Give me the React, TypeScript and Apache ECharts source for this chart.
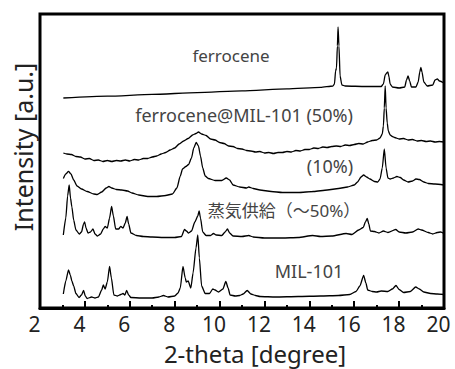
import React, { useEffect, useRef } from 'react';
import * as echarts from 'echarts';

// 2-theta range of the axis
const xMin = 2;
const xMax = 20;
const xStep = 2;
const yMin = 0;
const yMax = 294;

// [2-theta, stacked intensity (offset included)]
const ferrocene: [number, number][] = [
  [3.04, 210], [5, 211.8], [7, 213.6], [9, 215.4], [11, 217.2], [13, 219.1], [14.5, 220.6],
  [15.05, 222], [15.12, 224], [15.17, 237], [15.21, 240], [15.25, 262], [15.28, 281],
  [15.32, 262], [15.37, 232], [15.45, 223], [15.6, 222], [16.5, 221.5], [17.2, 221.5],
  [17.3, 224], [17.38, 233], [17.45, 235], [17.5, 236], [17.55, 231], [17.6, 224],
  [17.7, 221], [18, 220], [18.25, 221], [18.33, 228], [18.4, 232], [18.47, 227],
  [18.55, 221], [18.75, 221], [18.85, 226], [18.92, 236], [18.97, 240.5], [19.02, 236],
  [19.1, 226], [19.25, 222], [19.5, 223], [19.6, 228], [19.7, 229], [19.8, 227], [20, 225],
];

const ferroceneMil50: [number, number][] = [
  [3.04, 155], [3.2, 154], [3.4, 153.5], [3.6, 151.5], [3.8, 151], [4.0, 149], [4.2, 149.5],
  [4.4, 147.5], [4.6, 148], [4.8, 146.5], [5.0, 147.5], [5.2, 146.5], [5.4, 147.5],
  [5.6, 147], [5.8, 148], [6.0, 147], [6.2, 148.5], [6.4, 148], [6.6, 149.5], [6.8, 149.5],
  [7.0, 151], [7.2, 152], [7.4, 154], [7.6, 155.5], [7.8, 158], [8.0, 160], [8.2, 164],
  [8.4, 167], [8.6, 169.5], [8.8, 173], [8.95, 174.5], [9.06, 176], [9.2, 174],
  [9.4, 172.5], [9.6, 169], [9.8, 168], [10.0, 165.5], [10.2, 164.5], [10.4, 162],
  [10.6, 161.5], [10.8, 159.5], [11.0, 159], [11.2, 157.5], [11.4, 157], [11.6, 156],
  [11.8, 156.5], [12.0, 155], [12.2, 155.5], [12.4, 154.5], [12.6, 155.5], [12.8, 155.5],
  [13.0, 156.5], [13.2, 156], [13.4, 157.5], [13.6, 157], [13.8, 158.5], [14.0, 158.5],
  [14.2, 160], [14.4, 159.5], [14.6, 161], [14.8, 160.5], [15.0, 161.5], [15.2, 162],
  [15.4, 161.5], [15.6, 163], [15.8, 162.5], [16.0, 163.5], [16.2, 164.5], [16.4, 164],
  [16.6, 166], [16.8, 167.5], [17.0, 168], [17.15, 170], [17.25, 174], [17.3, 182],
  [17.34, 200], [17.38, 222], [17.42, 200], [17.47, 185], [17.52, 177], [17.6, 173],
  [17.7, 171.5], [17.8, 170.5], [18.0, 169], [18.2, 169.5], [18.4, 168], [18.6, 168.5],
  [18.8, 167], [19.0, 167.5], [19.2, 166.5], [19.4, 167], [19.6, 166], [19.8, 166.5],
  [20.0, 166],
];

const ferroceneMil10: [number, number][] = [
  [3.04, 129.5], [3.15, 134], [3.27, 136.5], [3.38, 134], [3.5, 128], [3.65, 122],
  [3.85, 119], [4.1, 116.5], [4.4, 114], [4.55, 113.5], [4.75, 116], [4.95, 120],
  [5.07, 121.5], [5.2, 120], [5.4, 118.5], [5.65, 118], [5.9, 117], [6.1, 115],
  [6.4, 113], [6.8, 111.5], [7.2, 111.5], [7.6, 112.5], [7.9, 114], [8.1, 120],
  [8.25, 132], [8.35, 139], [8.5, 141.5], [8.62, 143.5], [8.75, 150], [8.85, 160],
  [8.96, 165.5], [9.06, 162], [9.15, 152], [9.25, 140], [9.36, 132], [9.5, 129.5],
  [9.8, 127.5], [10.1, 127.5], [10.3, 130], [10.45, 128], [10.6, 123], [10.9, 121],
  [11.2, 120], [11.3, 121], [11.5, 119.5], [11.8, 118], [12.3, 116.5], [12.8, 115.5],
  [13.5, 115.5], [14.2, 116.5], [14.8, 118], [15.3, 119.5], [15.7, 121], [16.0, 123],
  [16.15, 126], [16.3, 131], [16.42, 133], [16.55, 131], [16.7, 129], [16.9, 126.5],
  [17.05, 126], [17.15, 129], [17.25, 140], [17.34, 159], [17.42, 140], [17.5, 130],
  [17.6, 129], [17.75, 130], [17.9, 131.5], [18.05, 130.5], [18.2, 128], [18.4, 126],
  [18.6, 127], [18.75, 129], [18.9, 128.5], [19.1, 126], [19.3, 124.5], [19.6, 124],
  [20.0, 123],
];

const steamSupply: [number, number][] = [
  [3.04, 73], [3.15, 90], [3.23, 112], [3.3, 123], [3.36, 110], [3.42, 101], [3.5, 88],
  [3.6, 78], [3.75, 74], [3.85, 76], [3.94, 84], [3.99, 86], [4.05, 80], [4.14, 75],
  [4.25, 76], [4.36, 79], [4.45, 74], [4.56, 72], [4.7, 74], [4.82, 79], [4.9, 81.5],
  [5.0, 80], [5.1, 90], [5.19, 101.5], [5.27, 92], [5.37, 79], [5.5, 79], [5.6, 81.5],
  [5.7, 80], [5.8, 85], [5.88, 91.5], [5.95, 84], [6.05, 75], [6.3, 72.5], [6.6, 71.5],
  [7.0, 71], [7.5, 70.5], [8.0, 70.5], [8.3, 71.5], [8.44, 78.5], [8.52, 77], [8.62, 75],
  [8.75, 77], [8.9, 86], [9.03, 92], [9.09, 97], [9.15, 90], [9.25, 76], [9.4, 72.5],
  [9.6, 72.5], [9.73, 74.5], [9.85, 73], [10.1, 72.5], [10.25, 76], [10.35, 79],
  [10.45, 75], [10.6, 72], [11.0, 71.5], [11.3, 72.5], [11.5, 71], [12.0, 70], [12.8, 70],
  [13.5, 70.5], [14.15, 72.5], [14.5, 71.5], [15.0, 72], [15.64, 74.5], [15.9, 73.5],
  [16.2, 78], [16.4, 80.5], [16.5, 86], [16.58, 89.5], [16.65, 84], [16.72, 77],
  [16.9, 76.5], [17.1, 75], [17.3, 77], [17.5, 75.5], [17.85, 78.5], [18.0, 76],
  [18.3, 75], [18.6, 76], [18.85, 79], [19.0, 78], [19.3, 75.5], [19.5, 74], [19.7, 75.5],
  [19.85, 76], [20.0, 74.5],
];

const mil101: [number, number][] = [
  [3.04, 14], [3.15, 27], [3.27, 38], [3.35, 33], [3.42, 27], [3.5, 22], [3.6, 14.5],
  [3.74, 10.5], [3.85, 13], [3.94, 17.5], [4.02, 12], [4.1, 9.5], [4.3, 11], [4.45, 10],
  [4.6, 11], [4.75, 18], [4.82, 23], [4.9, 19], [5.0, 26], [5.1, 41.5], [5.18, 30],
  [5.29, 13], [5.45, 12], [5.6, 13.5], [5.7, 14.5], [5.78, 13], [5.86, 17.5], [5.95, 13],
  [6.05, 10.5], [6.5, 10], [7.0, 10], [7.3, 11], [7.5, 12.5], [7.7, 11], [8.0, 12],
  [8.15, 15], [8.25, 20], [8.37, 41.5], [8.47, 30], [8.52, 26], [8.6, 27], [8.72, 20],
  [8.82, 35], [8.95, 60], [9.03, 73], [9.1, 50], [9.2, 22], [9.36, 14.5], [9.55, 14.5],
  [9.7, 19], [9.8, 18], [9.95, 16], [10.15, 19], [10.28, 26.5], [10.38, 20], [10.47, 13],
  [10.7, 12], [10.9, 12.5], [11.05, 14], [11.23, 17.5], [11.4, 14], [11.6, 12.5],
  [11.8, 11.5], [12.5, 11], [13.5, 11.5], [14.5, 12], [15.3, 12.5], [15.8, 13.5],
  [16.08, 16.5], [16.25, 22], [16.42, 32.5], [16.52, 25], [16.6, 18], [16.8, 16.5],
  [17.0, 16], [17.2, 17], [17.5, 16.5], [17.7, 19], [17.86, 22.5], [18.0, 18.5],
  [18.2, 15.5], [18.5, 16.5], [18.74, 21], [18.9, 19], [19.1, 16], [19.4, 14.5],
  [19.7, 14], [20.0, 13.5],
];

const traceNames = ['ferrocene', 'ferrocene@MIL-101 (50%)', '(10%)', '蒸気供給（～50%）', 'MIL-101'];
const traces = [ferrocene, ferroceneMil50, ferroceneMil10, steamSupply, mil101];

const xTitle = '2-theta [degree]';
const yTitle = 'Intensity [a.u.]';

const FONT = '"Noto Sans", "Noto Sans CJK JP", sans-serif';

export default function App() {
  const ref = useRef<HTMLDivElement>(null);
  useEffect(() => {
    const chart = echarts.init(ref.current!, null, { renderer: 'svg' });
    const labelPos: [number, number][] = [
      [231, 55], [244, 115], [330, 166], [284, 210], [309, 271],
    ];
    const labelSize = [17, 18, 18, 17, 18];
    chart.setOption({
      animation: false,
      grid: {
        left: 40, right: 11, top: 14, bottom: 61,
        show: true, borderColor: '#000', borderWidth: 3,
      },
      xAxis: {
        type: 'value', min: xMin, max: xMax, interval: xStep,
        axisLine: { show: true, lineStyle: { color: '#000', width: 3 } },
        axisTick: { show: true, inside: true, length: 7, lineStyle: { color: '#000', width: 2 } },
        minorTick: { show: true, splitNumber: 2, length: 3, lineStyle: { color: '#000', width: 2 } },
        splitLine: { show: false },
        axisLabel: {
          fontSize: 21, color: '#222', fontFamily: FONT, margin: 5,
          padding: [0, 11, 0, 0],
        },
      },
      yAxis: {
        type: 'value', min: yMin, max: yMax,
        axisLine: { show: false }, axisTick: { show: false },
        axisLabel: { show: false }, splitLine: { show: false },
      },
      series: traces.map((d, i) => ({
        type: 'line', name: traceNames[i], data: d, showSymbol: false,
        smooth: 0.2, smoothMonotone: 'x',
        lineStyle: { color: '#000', width: 1.3 },
      })),
      graphic: [
        ...traceNames.map((t, i) => ({
          type: 'text', x: labelPos[i][0], y: labelPos[i][1],
          style: {
            text: t, fill: '#444', font: `${labelSize[i]}px ${FONT}`,
            textAlign: 'center', textVerticalAlign: 'middle',
          },
        })),
        {
          type: 'text', x: 255, y: 353,
          style: { text: xTitle, fill: '#222', font: `24px ${FONT}`, textAlign: 'center', textVerticalAlign: 'middle' },
        },
        {
          type: 'text', x: 23, y: 147, rotation: Math.PI / 2,
          style: { text: yTitle, fill: '#222', font: `25px ${FONT}`, textAlign: 'center', textVerticalAlign: 'middle' },
        },
      ],
    });
    return () => chart.dispose();
  }, []);
  return <div ref={ref} style={{ position: 'absolute', left: 0, top: 0, width: 455, height: 369 }} />;
}
